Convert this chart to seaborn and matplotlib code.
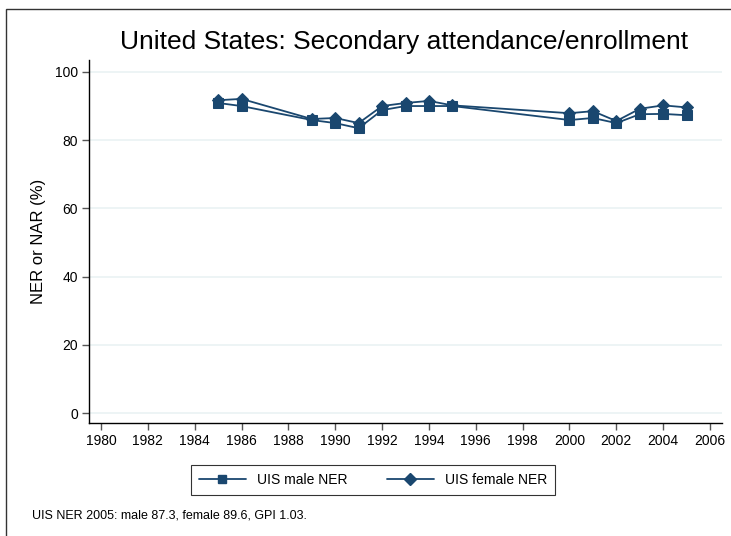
import pandas as pd
import matplotlib.pyplot as plt
import seaborn as sns
from matplotlib.patches import Rectangle

years = [1985, 1986, 1989, 1990, 1991, 1992, 1993, 1994, 1995, 2000, 2001, 2002, 2003, 2004, 2005]
male_ner = [90.9, 90.0, 85.9, 85.0, 83.5, 88.8, 90.0, 90.0, 90.0, 85.9, 86.5, 85.0, 87.6, 87.7, 87.3]
female_ner = [91.7, 92.1, 86.2, 86.5, 85.0, 90.0, 90.9, 91.5, 90.2, 87.9, 88.5, 85.6, 89.2, 90.2, 89.6]
series = ['UIS male NER', 'UIS female NER']

df = pd.DataFrame({
    'year': years * 2,
    'value': male_ner + female_ner,
    'series': [series[0]] * len(years) + [series[1]] * len(years),
})

sns.set_style('white')
plt.rcParams['font.family'] = ['Liberation Sans', 'DejaVu Sans']
plt.rcParams['text.color'] = 'black'
plt.rcParams['axes.labelcolor'] = 'black'
plt.rcParams['xtick.color'] = 'black'
plt.rcParams['ytick.color'] = 'black'

navy = '#1a476f'
fig = plt.figure(figsize=(7.31, 5.36), dpi=100)
ax = fig.add_axes([89 / 731, 113 / 536, 633 / 731, 363 / 536])

sns.lineplot(data=df, x='year', y='value', hue='series', style='series',
             palette=[navy, navy], markers=['s', 'D'], dashes=False,
             markersize=6.5, linewidth=1.3, markeredgecolor=navy, ax=ax, legend=False)

ax.set_xlim(1979.49, 2006.51)
ax.set_ylim(-2.93, 103.5)
ax.set_xticks(range(1980, 2007, 2))
ax.set_yticks(range(0, 101, 20))
ax.grid(axis='y', color='#eaf2f3', linewidth=1.2)
ax.grid(axis='x', visible=False)
for s in ['top', 'right']:
    ax.spines[s].set_visible(False)
for s in ['left', 'bottom']:
    ax.spines[s].set_color('black')
    ax.spines[s].set_linewidth(1)
ax.tick_params(axis='both', direction='out', length=5, width=1, color='#555555',
               labelsize=10, labelcolor='black', left=True, bottom=True, pad=3)
ax.set_xlabel('')
ax.set_ylabel('NER or NAR (%)', fontsize=12, labelpad=6, color='black')

fig.text(0.5 * (122 + 686) / 731, 1 - 42 / 536, 'United States: Secondary attendance/enrollment',
         ha='center', va='center', fontsize=19, color='black')

# legend
h1, = ax.plot([], [], color=navy, marker='s', markersize=6, linewidth=1.3)
h2, = ax.plot([], [], color=navy, marker='D', markersize=6, linewidth=1.3)
leg = fig.legend([h1, h2], series, loc='center', bbox_to_anchor=(373 / 731, 1 - 480 / 536),
                 ncol=2, frameon=True, fontsize=10, handlelength=3.4, columnspacing=2.8,
                 fancybox=False, edgecolor='black', borderpad=0.6)
leg.get_frame().set_linewidth(0.8)

fig.text(32 / 731, 1 - 516 / 536, 'UIS NER 2005: male 87.3, female 89.6, GPI 1.03.',
         ha='left', va='center', fontsize=9, color='black')

fig.patches.append(Rectangle((6 / 731, -0.05), 1.1, 1 - 9 / 536 + 0.05, transform=fig.transFigure,
                             fill=False, edgecolor='#333333', linewidth=1))

fig.savefig('out.png', dpi=100)
